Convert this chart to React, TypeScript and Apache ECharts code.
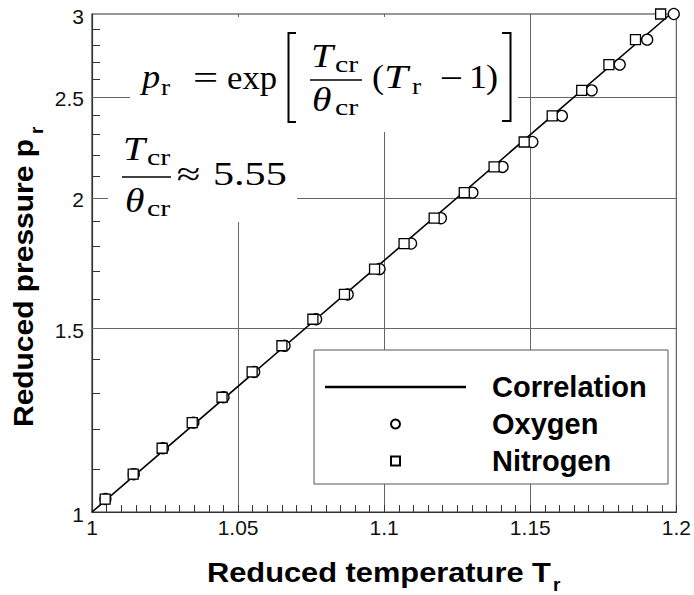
import React, { useEffect, useRef } from "react";
import * as echarts from "echarts";

// ---- data ----
const SERIES_NAMES = ["Correlation", "Oxygen", "Nitrogen"];
const CORR_T = [1.0, 1.198];
const CORR_P = [1.0, 3.0];
const OXYGEN_T = [1.0046, 1.0143, 1.0243, 1.0347, 1.045, 1.0555, 1.0659, 1.0767, 1.0875, 1.0984, 1.1092, 1.1194, 1.1302, 1.1405, 1.1507, 1.1608, 1.171, 1.1806, 1.19, 1.1991];
const NITROGEN_T = [1.0045, 1.0141, 1.024, 1.0343, 1.0445, 1.0548, 1.065, 1.0756, 1.0864, 1.0967, 1.1068, 1.1171, 1.1274, 1.1376, 1.1479, 1.1575, 1.1676, 1.1769, 1.186, 1.1946];
const PRESSURE = [1.029, 1.087, 1.151, 1.218, 1.288, 1.362, 1.443, 1.53, 1.616, 1.709, 1.808, 1.912, 2.023, 2.141, 2.262, 2.396, 2.535, 2.683, 2.835, 3.0];

const X_MIN = 1;
const X_MAX = 1.2;
const X_STEP = 0.05;
const Y_MIN = 1;
const Y_MAX = 3;
const Y_LABELS = [1, 1.5, 2, 2.5, 3];
const Y_GRID = [1.5, 2, 2.5];
const Y_MINOR = [1.1, 1.2, 1.3, 1.4, 1.6, 1.7, 1.8, 1.9, 2.1, 2.2, 2.3, 2.4, 2.6, 2.7, 2.8, 2.9];

const SANS = "'Liberation Sans', Arial, Helvetica, sans-serif";
const SERIF = "'Liberation Serif', 'DejaVu Serif', serif";

function mt(text: string, x: number, y: number, size: number, italic: boolean, sx: number, align: string = "left") {
  return {
    type: "text",
    x,
    y,
    z: 60,
    scaleX: sx,
    style: {
      text,
      fill: "#000",
      fontSize: size,
      fontFamily: SERIF,
      fontStyle: italic ? "italic" : "normal",
      align,
      textAlign: align,
      verticalAlign: "middle",
      textVerticalAlign: "middle",
    },
  };
}

function bold(text: string, x: number, y: number, size: number, extra: any = {}) {
  return {
    type: "text",
    x,
    y,
    z: 60,
    ...extra,
    style: {
      text,
      fill: "#000",
      fontSize: size,
      fontWeight: "bold",
      fontFamily: SANS,
      align: "left",
      textAlign: "left",
      verticalAlign: "middle",
      textVerticalAlign: "middle",
    },
  };
}

export default function App() {
  const ref = useRef<HTMLDivElement>(null);
  useEffect(() => {
    if (!ref.current) return;
    const chart = echarts.init(ref.current, null, { renderer: "svg" });

    const gridLineItem = (params: any, api: any) => {
      const cs = params.coordSys;
      const y = Math.round(api.coord([X_MIN, api.value(1)])[1]) + 0.5;
      return {
        type: "line",
        shape: { x1: cs.x, y1: y, x2: cs.x + cs.width, y2: y },
        style: { stroke: "#666", lineWidth: 1 },
      };
    };
    const minorTickItem = (params: any, api: any) => {
      const cs = params.coordSys;
      const y = Math.round(api.coord([X_MIN, api.value(1)])[1]) + 0.5;
      return {
        type: "line",
        shape: { x1: cs.x, y1: y, x2: cs.x + 8, y2: y },
        style: { stroke: "#333", lineWidth: 1 },
      };
    };
    const labelItem = (params: any, api: any) => {
      const cs = params.coordSys;
      const v = api.value(1);
      const y = api.coord([X_MIN, v])[1];
      return {
        type: "text",
        x: cs.x - 8,
        y: y + 2,
        style: {
          text: String(v),
          fill: "#111",
          fontSize: 21,
          fontFamily: SANS,
          align: "right",
          textAlign: "right",
          verticalAlign: "middle",
          textVerticalAlign: "middle",
        },
      };
    };

    const option: any = {
      animation: false,
      backgroundColor: "#fff",
      grid: {
        left: 92,
        right: 16,
        top: 14,
        bottom: 83,
        show: true,
        borderColor: "#333",
        borderWidth: 1.2,
        backgroundColor: "transparent",
      },
      xAxis: {
        type: "value",
        min: X_MIN,
        max: X_MAX,
        interval: X_STEP,
        axisLine: { show: true, lineStyle: { color: "#333", width: 1.2 } },
        axisTick: { show: true, inside: true, length: 7, lineStyle: { color: "#333" } },
        minorTick: { show: true, splitNumber: 10, length: 7, lineStyle: { color: "#333", width: 1 } },
        splitLine: { show: true, lineStyle: { color: "#666", width: 1 } },
        axisLabel: {
          show: true,
          margin: 5,
          fontSize: 21,
          fontFamily: SANS,
          color: "#111",
          showMinLabel: true,
          showMaxLabel: true,
          formatter: (v: number) => String(parseFloat(v.toFixed(3))),
        },
      },
      yAxis: {
        type: "log",
        logBase: Math.E,
        min: Y_MIN,
        max: Y_MAX,
        axisLine: { show: true, lineStyle: { color: "#333", width: 1.2 } },
        axisTick: { show: false },
        minorTick: { show: false },
        splitLine: { show: false },
        axisLabel: { show: false },
      },
      legend: {
        orient: "vertical",
        left: 314,
        top: 350,
        backgroundColor: "#fff",
        borderColor: "#555",
        borderWidth: 1,
        borderRadius: 0,
        padding: [22, 11, 8, 11],
        itemWidth: 141,
        itemHeight: 9,
        itemGap: 7,
        selectedMode: false,
        symbolKeepAspect: true,
        data: [
          { name: SERIES_NAMES[0], icon: "path://M0,0H141V2.5H0Z", itemStyle: { color: "#000", borderWidth: 0 } },
          { name: SERIES_NAMES[1], icon: "circle" },
          { name: SERIES_NAMES[2], icon: "path://M0,0H10V10H0Z" },
        ],
        textStyle: {
          fontFamily: SANS,
          fontWeight: "bold",
          fontSize: 29,
          color: "#000",
          lineHeight: 30,
          width: 165,
          padding: [0, 0, 0, 21],
        },
        z: 20,
      },
      graphic: [
        // white text boxes hiding the grid lines behind the formulas
        { type: "rect", z: 40, shape: { x: 130, y: 17, width: 388, height: 115 }, style: { fill: "#fff" } },
        { type: "rect", z: 40, shape: { x: 108, y: 128, width: 189, height: 94 }, style: { fill: "#fff" } },
        // formula 1
        mt("p", 142, 77.5, 33, true, 1.1),
        mt("r", 161, 87, 23, false, 1.2),
        mt("=", 205.5, 77.5, 33, false, 1.35, "center"),
        mt("exp", 227, 77.5, 33, false, 1.05),
        { type: "polyline", z: 60, shape: { points: [[296, 33], [288.5, 33], [288.5, 122], [296, 122]] }, style: { stroke: "#000", lineWidth: 2, fill: null } },
        mt("T", 311, 56, 33, true, 1.2),
        mt("cr", 335, 64, 23, false, 1.3),
        { type: "line", z: 60, shape: { x1: 310, y1: 80, x2: 362, y2: 80 }, style: { stroke: "#000", lineWidth: 1.6 } },
        mt("θ", 312, 100, 33, true, 1.2),
        mt("cr", 335, 107, 23, false, 1.3),
        mt("(", 372, 77.5, 33, false, 1.1),
        mt("T", 384, 77, 33, true, 1.3),
        mt("r", 412, 86, 23, false, 1.2),
        mt("−", 451.5, 77.5, 33, false, 1.25, "center"),
        mt("1", 469, 77.5, 33, false, 1.1),
        mt(")", 486, 77.5, 33, false, 1.1),
        { type: "polyline", z: 60, shape: { points: [[502, 33], [510.5, 33], [510.5, 121], [502, 121]] }, style: { stroke: "#000", lineWidth: 2, fill: null } },
        // formula 2
        mt("T", 123, 149, 33, true, 1.2),
        mt("cr", 147, 157, 23, false, 1.3),
        { type: "line", z: 60, shape: { x1: 122, y1: 177, x2: 171, y2: 177 }, style: { stroke: "#000", lineWidth: 1.6 } },
        mt("θ", 125, 201, 33, true, 1.2),
        mt("cr", 147, 208, 23, false, 1.3),
        mt("≈", 188.5, 174, 33, false, 1.3, "center"),
        mt("5.55", 213, 173.5, 34, false, 1.24),
        // axis titles
        bold("Reduced temperature T", 207, 572, 28, { scaleX: 1.1 }),
        bold("r", 553, 584, 19),
        bold("Reduced pressure p", 23, 427, 28, { rotation: Math.PI / 2, scaleX: 1.07 }),
        bold("r", 36, 134, 19, { rotation: Math.PI / 2 }),
      ],
      series: [
        {
          name: SERIES_NAMES[0],
          type: "line",
          data: CORR_T.map((t, i) => [t, CORR_P[i]]),
          symbol: "none",
          showSymbol: false,
          lineStyle: { color: "#000", width: 1.6 },
          itemStyle: { color: "#000" },
          z: 3,
        },
        {
          name: SERIES_NAMES[1],
          type: "scatter",
          data: OXYGEN_T.map((t, i) => [t, PRESSURE[i]]),
          symbol: "circle",
          symbolSize: 11,
          clip: false,
          itemStyle: { color: "#fff", borderColor: "#000", borderWidth: 1.3, opacity: 1 },
          z: 4,
        },
        {
          name: SERIES_NAMES[2],
          type: "scatter",
          data: NITROGEN_T.map((t, i) => [t, PRESSURE[i]]),
          symbol: "rect",
          symbolSize: 10,
          clip: false,
          itemStyle: { color: "#fff", borderColor: "#000", borderWidth: 1.3, opacity: 1 },
          z: 5,
        },
        {
          type: "custom",
          data: Y_GRID.map((p) => [X_MIN, p]),
          renderItem: gridLineItem,
          silent: true,
          z: 1,
        },
        {
          type: "custom",
          data: Y_MINOR.map((p) => [X_MIN, p]),
          renderItem: minorTickItem,
          silent: true,
          z: 1,
        },
        {
          type: "custom",
          data: Y_LABELS.map((p) => [X_MIN, p]),
          renderItem: labelItem,
          silent: true,
          clip: false,
          z: 1,
        },
      ],
    };
    chart.setOption(option);
    return () => chart.dispose();
  }, []);
  return (
    <div
      ref={ref}
      style={{ position: "fixed", left: 0, top: 0, width: 694, height: 595, background: "#fff" }}
    />
  );
}
